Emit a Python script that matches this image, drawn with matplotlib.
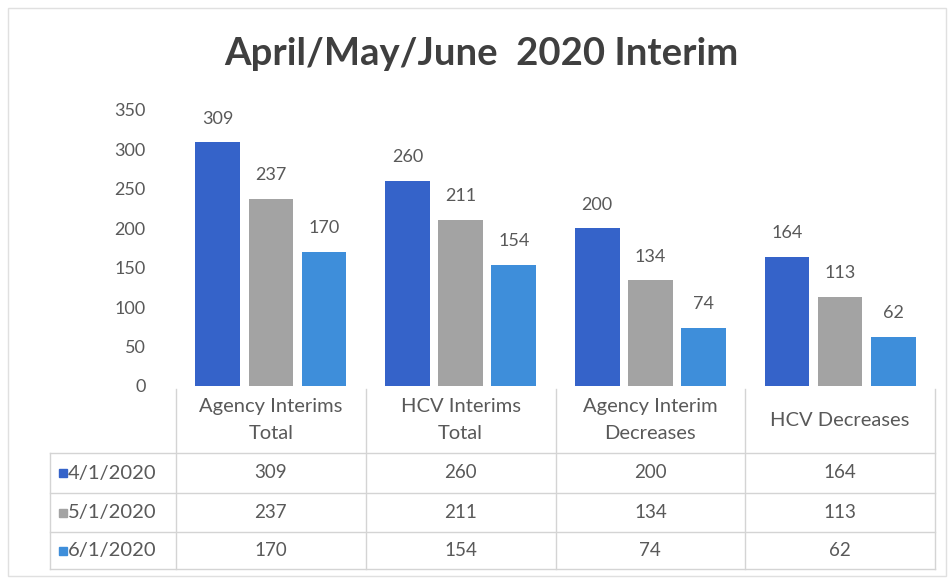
import matplotlib
matplotlib.use("Agg")
import matplotlib.pyplot as plt
from matplotlib.transforms import blended_transform_factory
from matplotlib.patches import Rectangle

categories = ["Agency Interims\nTotal", "HCV Interims\nTotal", "Agency Interim\nDecreases", "HCV Decreases"]
series_names = ["4/1/2020", "5/1/2020", "6/1/2020"]
apr = [309, 260, 200, 164]
may = [237, 211, 134, 113]
jun = [170, 154, 74, 62]
yticks = [0, 50, 100, 150, 200, 250, 300, 350]
title = "April/May/June  2020 Interim"

series = [apr, may, jun]
colors = ["#3563C9", "#A3A3A3", "#3E8EDA"]
text_color = "#595959"
line_color = "#D4D4D4"
font = "Lato"

W, H = 951, 578
fig = plt.figure(figsize=(W / 100, H / 100), dpi=100)
fig.patch.set_facecolor("white")

def fy(py):
    return 1 - py / H

ax = fig.add_axes([176 / W, fy(386), (935 - 176) / W, (386 - 110) / H])
ax.set_xlim(-0.5, len(categories) - 0.5)
ax.set_ylim(0, 350)
for s in ax.spines.values():
    s.set_visible(False)
ax.set_xticks([])
ax.set_yticks(yticks)
ax.set_yticklabels([str(v) for v in yticks], fontsize=13, color=text_color, family=font)
ax.tick_params(axis="y", length=0, pad=22)

bw = 0.235
off = 0.28
for i, (vals, c) in enumerate(zip(series, colors)):
    xs = [k + (i - 1) * off for k in range(len(categories))]
    ax.bar(xs, vals, width=bw, color=c, zorder=2)
    for x, v in zip(xs, vals):
        ax.annotate(str(v), (x, v), xytext=(0, 17), textcoords="offset points",
                    ha="center", va="center", fontsize=13, color=text_color, family=font)

fig.text(481 / W, fy(54), title, ha="center", va="center", fontsize=27.5,
         fontweight="bold", color="#3F3F3F", family=font)

# data table below axis
tr = blended_transform_factory(ax.transData, fig.transFigure)
n = len(categories)
xl = -0.5 - 126 / 190
row_lines = [453, 493, 532, 569]
lw = 1.0
for k in range(n + 1):
    ax.plot([k - 0.5, k - 0.5], [fy(389), fy(569)], transform=tr, color=line_color,
            lw=lw, clip_on=False)
ax.plot([xl, xl], [fy(453), fy(569)], transform=tr, color=line_color, lw=lw, clip_on=False)
for yy in row_lines:
    ax.plot([xl, n - 0.5], [fy(yy), fy(yy)], transform=tr, color=line_color, lw=lw, clip_on=False)

for k, cat in enumerate(categories):
    ax.text(k, fy(420), cat, transform=tr, ha="center", va="center", fontsize=14.5,
            color=text_color, family=font, linespacing=1.75)

for r, (name, vals, c) in enumerate(zip(series_names, series, colors)):
    yc = fy((row_lines[r] + row_lines[r + 1]) / 2)
    ax.plot([xl + 13 / 190], [yc], transform=tr, marker="s", markersize=6, color=c,
            clip_on=False, linestyle="none")
    ax.text(xl + 18 / 190, yc, name, transform=tr, ha="left", va="center", fontsize=14.5,
            color=text_color, family=font)
    for k, v in enumerate(vals):
        ax.text(k, yc, str(v), transform=tr, ha="center", va="center", fontsize=13.5,
                color=text_color, family=font)

fig.patches.append(Rectangle((8 / W, 1 - 576 / H), 938 / W, 568 / H, transform=fig.transFigure,
                             fill=False, edgecolor="#E0E0E0", lw=1))

fig.savefig("out.png", dpi=100)
